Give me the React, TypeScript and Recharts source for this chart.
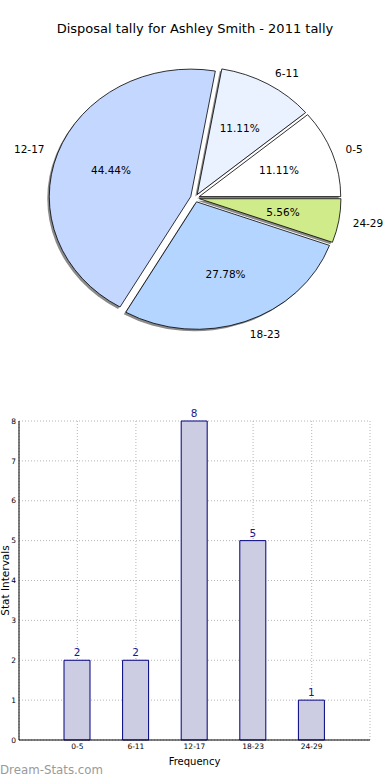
// Disposal tally (pie + bar) — Recharts
import {
  PieChart,
  Pie,
  BarChart,
  Bar,
  XAxis,
  YAxis,
  CartesianGrid,
  LabelList,
} from "recharts";

// Kategori interval & jumlah per interval.
const categories = ["0-5", "6-11", "12-17", "18-23", "24-29"];
const counts = [2, 2, 8, 5, 1];
const pieColors = ["#ffffff", "#eaf2ff", "#c4d8ff", "#b4d5ff", "#d0eb8a"];
const yTicks = [0, 1, 2, 3, 4, 5, 6, 7, 8];

const title = "Disposal tally for Ashley Smith - 2011 tally";
const FONT = "DejaVu Sans, sans-serif";

const pieData = categories.map((name, i) => ({ name, value: counts[i], fill: pieColors[i] }));
const barData = categories.map((range, i) => ({ range, count: counts[i] }));

// Pie digambar sebagai elips agak pipih, seperti aslinya.
const RAD = Math.PI / 180;
const SQUASH = 0.901;
const EXPLODE = 4.5;

function offset(mid: number) {
  return [EXPLODE * Math.cos(mid * RAD), -EXPLODE * SQUASH * Math.sin(mid * RAD)];
}

function wedgePath(cx: number, cy: number, r: number, a0: number, a1: number) {
  const ry = r * SQUASH;
  const x0 = cx + r * Math.cos(a0 * RAD);
  const y0 = cy - ry * Math.sin(a0 * RAD);
  const x1 = cx + r * Math.cos(a1 * RAD);
  const y1 = cy - ry * Math.sin(a1 * RAD);
  const large = Math.abs(a1 - a0) > 180 ? 1 : 0;
  return `M${cx},${cy} L${x0},${y0} A${r},${ry} 0 ${large} 0 ${x1},${y1} Z`;
}

function ShadowShape(p: any) {
  const mid = (p.startAngle + p.endAngle) / 2;
  const [ox, oy] = offset(mid);
  return (
    <path
      d={wedgePath(p.cx + ox - 2, p.cy + oy + 2, p.outerRadius, p.startAngle, p.endAngle)}
      fill="#8a8a8a"
    />
  );
}

function WedgeShape(p: any) {
  const mid = (p.startAngle + p.endAngle) / 2;
  const [ox, oy] = offset(mid);
  return (
    <path
      d={wedgePath(p.cx + ox, p.cy + oy, p.outerRadius, p.startAngle, p.endAngle)}
      fill={p.payload?.fill ?? p.fill}
      stroke="#000"
      strokeWidth={0.8}
    />
  );
}

function PieLabel(p: any) {
  const c = Math.cos(p.midAngle * RAD);
  const s = Math.sin(p.midAngle * RAD);
  const [ox, oy] = offset(p.midAngle);
  const r = p.outerRadius;
  const lx = p.cx + ox + 1.1 * r * c;
  const ly = p.cy + oy - 1.1 * r * SQUASH * s;
  const px = p.cx + ox + 0.6 * r * c;
  const py = p.cy + oy - 0.6 * r * SQUASH * s;
  return (
    <g fontFamily={FONT} fontSize={10.5} fill="#000">
      <text x={lx} y={ly} textAnchor={c >= 0 ? "start" : "end"} dominantBaseline="central" fill="#000">
        {p.name}
      </text>
      <text x={px} y={py} textAnchor="middle" dominantBaseline="central" fill="#000">
        {(p.percent * 100).toFixed(2)}%
      </text>
    </g>
  );
}

export default function App() {
  return (
    <div
      style={{
        position: "absolute",
        left: 0,
        top: 0,
        width: 390,
        height: 780,
        background: "#fff",
        fontFamily: FONT,
        overflow: "hidden",
      }}
    >
      {/* Judul */}
      <div
        style={{
          position: "absolute",
          top: 21,
          left: 0,
          width: 390,
          textAlign: "center",
          fontSize: 13,
          color: "#000",
        }}
      >
        {title}
      </div>

      {/* Pie (dua lapis: bayangan lalu irisan) */}
      <div style={{ position: "absolute", top: 0, left: 0 }}>
        <PieChart width={390} height={380} margin={{ top: 0, right: 0, bottom: 0, left: 0 }}>
          <Pie
            data={pieData}
            dataKey="value"
            nameKey="name"
            cx={195}
            cy={198}
            outerRadius={141.5}
            startAngle={0}
            endAngle={360}
            stroke="none"
            shape={ShadowShape}
            isAnimationActive={false}
          />
          <Pie
            data={pieData}
            dataKey="value"
            nameKey="name"
            cx={195}
            cy={198}
            outerRadius={141.5}
            startAngle={0}
            endAngle={360}
            shape={WedgeShape}
            label={PieLabel}
            labelLine={false}
            isAnimationActive={false}
          />
        </PieChart>
      </div>

      {/* Bar */}
      <div style={{ position: "absolute", top: 400, left: 0 }}>
        <BarChart width={390} height={380} data={barData} margin={{ top: 21, right: 20, bottom: 0, left: 0 }}>
          <XAxis
            dataKey="range"
            padding={{ left: 29, right: 29 }}
            height={40}
            tickSize={4}
            tickMargin={0}
            tickLine={false}
            axisLine={{ stroke: "#000" }}
            tick={{ fontSize: 7.5, fill: "#000", fontFamily: FONT }}
            label={(lp: any) => {
              const vb = lp.viewBox || {};
              return (
                <text
                  x={(vb.x ?? 19) + (vb.width ?? 351) / 2}
                  y={361}
                  textAnchor="middle"
                  dominantBaseline="central"
                  fontSize={10}
                  fontFamily={FONT}
                  fill="#000"
                >
                  Frequency
                </text>
              );
            }}
          />
          <XAxis
            xAxisId="top"
            orientation="top"
            dataKey="range"
            height={0}
            tick={false}
            tickLine={false}
            axisLine={{ stroke: "#000" }}
            padding={{ left: 29, right: 29 }}
          />
          <YAxis
            domain={[0, 8]}
            ticks={yTicks}
            width={19}
            tickSize={3}
            tickMargin={0}
            tickLine={false}
            axisLine={{ stroke: "#000" }}
            tick={{ fontSize: 7.5, fill: "#000", fontFamily: FONT }}
            label={(lp: any) => {
              const vb = lp.viewBox || {};
              const cy = (vb.y ?? 21) + (vb.height ?? 319) / 2;
              return (
                <text
                  x={9}
                  y={cy}
                  transform={`rotate(-90 9 ${cy})`}
                  textAnchor="middle"
                  fontSize={10.5}
                  fontFamily={FONT}
                  fill="#000"
                >
                  Stat Intervals
                </text>
              );
            }}
          />
          <YAxis
            yAxisId="right"
            orientation="right"
            width={0}
            domain={[0, 8]}
            tick={false}
            tickLine={false}
            axisLine={{ stroke: "#000" }}
          />
          <Bar dataKey="count" fill="#ccccE2" stroke="#000080" strokeWidth={1} barSize={26} isAnimationActive={false}>
            <LabelList dataKey="count" position="top" offset={4} fill="#1a1a8c" fontSize={10.5} fontFamily={FONT} />
          </Bar>
          <CartesianGrid stroke="#b5b5b5" strokeDasharray="1 2" />
        </BarChart>
      </div>

      {/* Watermark */}
      <div
        style={{
          position: "absolute",
          left: 0,
          top: 763,
          fontSize: 11.8,
          color: "#9a9a9a",
          whiteSpace: "nowrap",
        }}
      >
        Dream-Stats.com
      </div>
    </div>
  );
}
